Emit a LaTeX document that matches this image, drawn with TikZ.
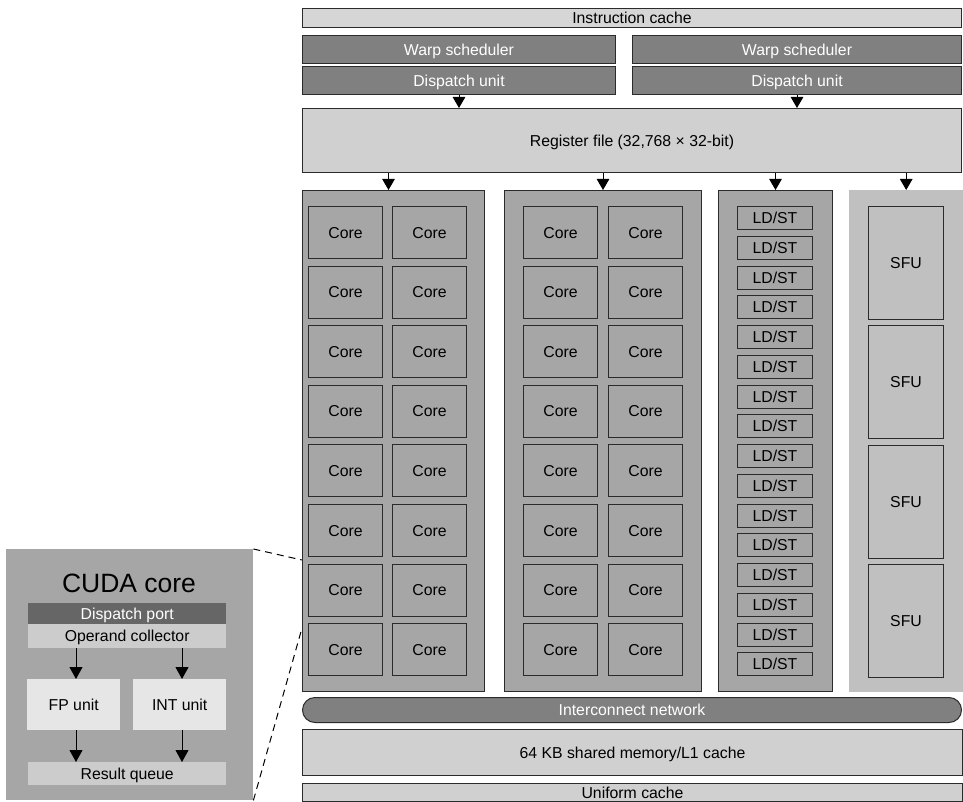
\documentclass[tikz,border=0pt]{standalone}
\usepackage{fontspec}
\setmainfont{Liberation Sans}
\usetikzlibrary{arrows.meta}
\definecolor{linec}{HTML}{2B2B2B}
\definecolor{lightc}{HTML}{D6D6D6}
\definecolor{regc}{HTML}{D0D0D0}
\definecolor{darkc}{HTML}{808080}
\definecolor{midc}{HTML}{A6A6A6}
\definecolor{sfuc}{HTML}{C0C0C0}
\definecolor{portc}{HTML}{666666}
\definecolor{opc}{HTML}{CCCCCC}
\definecolor{unitc}{HTML}{E6E6E6}
\newcommand\mytxt{\fontsize{15.8}{18}\selectfont}
\begin{document}
\begin{tikzpicture}[x=1pt,y=-1pt,
  box/.style={draw=linec, line width=1pt, inner sep=0pt, anchor=north west,
    font=\mytxt, text height=11.3pt, text depth=0pt},
  plain/.style={inner sep=0pt, anchor=north west,
    font=\mytxt, text height=11.3pt, text depth=0pt},
  arr/.style={line width=1pt, -{Triangle[width=12.5pt,length=11pt]}},
  iarr/.style={line width=1pt, -{Triangle[width=13pt,length=12pt]}},
  zoomline/.style={line width=1pt, dash pattern=on 7pt off 5pt}]
\useasboundingbox (0,0) rectangle (963,802);
\fill[white] (0,0) rectangle (963,802);

% top
\node[box, fill=lightc, minimum width=659pt, minimum height=19pt] (ic) at (302,8) {Instruction cache};
\node[box, fill=darkc, text=white, minimum width=313pt, minimum height=28pt] (ws1) at (302,35) {Warp scheduler};
\node[box, fill=darkc, text=white, minimum width=329pt, minimum height=28pt] (ws2) at (632,35) {Warp scheduler};
\node[box, fill=darkc, text=white, minimum width=313pt, minimum height=28pt] (du1) at (302,66) {Dispatch unit};
\node[box, fill=darkc, text=white, minimum width=329pt, minimum height=28pt] (du2) at (632,66) {Dispatch unit};
\node[box, fill=regc, minimum width=659pt, minimum height=64pt] (reg) at (302,108) {Register file (32,768 × 32-bit)};
\draw[arr] (du1.south) -- (du1.south |- reg.north);
\draw[arr] (du2.south) -- (du2.south |- reg.north);

% blocks
\node[box, fill=midc, minimum width=182pt, minimum height=501pt] (blk1) at (302,190) {};
\node[box, fill=midc, minimum width=197pt, minimum height=501pt] (blk2) at (504,190) {};
\node[box, fill=midc, minimum width=114pt, minimum height=501pt] (blk3) at (718,190) {};
\node[plain, fill=sfuc, minimum width=114pt, minimum height=502pt] (blk4) at (849,190) {};

\draw[arr] ([xshift=-5pt]reg.south -| blk1.north) -- ([xshift=-5pt]blk1.north);
\draw[arr] (reg.south -| blk2.north) -- (blk2.north);
\draw[arr] (reg.south -| blk3.north) -- (blk3.north);
\draw[arr] (reg.south -| blk4.north) -- (blk4.north);

\foreach \i in {0,...,7}{
  \node[box, fill=midc, minimum width=74pt, minimum height=52pt] (ca\i) at (308,206+\i*59.6) {Core};
  \node[box, fill=midc, minimum width=74pt, minimum height=52pt] (cb\i) at (392,206+\i*59.6) {Core};
  \node[box, fill=midc, minimum width=74pt, minimum height=52pt] (cc\i) at (523,206+\i*59.6) {Core};
  \node[box, fill=midc, minimum width=74pt, minimum height=52pt] (cd\i) at (608,206+\i*59.6) {Core};
}
\foreach \i in {0,...,15}{
  \node[box, fill=midc, minimum width=75pt, minimum height=23pt] (ls\i) at (737,206+\i*29.75) {LD/ST};
}
\foreach \i in {0,...,3}{
  \node[box, fill=sfuc, minimum width=75pt, minimum height=113pt] (sfu\i) at (868,206+\i*119.3) {SFU};
}

% bottom
\node[box, fill=darkc, text=white, rounded corners=12.5pt, minimum width=659pt, minimum height=25pt] (net) at (302,697) {Interconnect network};
\node[box, fill=regc, minimum width=660pt, minimum height=46pt] (shm) at (302,729) {64 KB shared memory/L1 cache};
\node[box, fill=regc, minimum width=660pt, minimum height=18pt] (uc) at (302,783) {Uniform cache};

% inset
\node[plain, fill=midc, minimum width=247pt, minimum height=251pt] (inset) at (6,549) {};
\node[inner sep=0pt, font=\fontsize{26.5}{30}\selectfont, text height=19pt, text depth=0pt] (title) at (129,583) {CUDA core};
\node[plain, fill=portc, text=white, minimum width=198pt, minimum height=21pt] (port) at (28,603) {Dispatch port};
\node[plain, fill=opc, minimum width=198pt, minimum height=24pt] (opc) at (28,624) {Operand collector};
\node[plain, fill=unitc, minimum width=93pt, minimum height=51pt] (fp) at (27,679) {FP unit};
\node[plain, fill=unitc, minimum width=93pt, minimum height=51pt] (int) at (133,679) {INT unit};
\node[plain, fill=opc, minimum width=198pt, minimum height=23pt] (rq) at (28,762) {Result queue};
\coordinate (fpx) at (76,0);
\coordinate (intx) at (182,0);
\draw[iarr] (opc.south -| fpx) -- (fp.north -| fpx);
\draw[iarr] (opc.south -| intx) -- (int.north -| intx);
\draw[iarr] (fp.south -| fpx) -- (rq.north -| fpx);
\draw[iarr] (int.south -| intx) -- (rq.north -| intx);

\coordinate (zt) at (302,560);
\coordinate (zb) at (302,628);
\draw[zoomline] (inset.north east) -- (zt);
\draw[zoomline] (inset.south east) -- (zb);
\end{tikzpicture}
\end{document}
